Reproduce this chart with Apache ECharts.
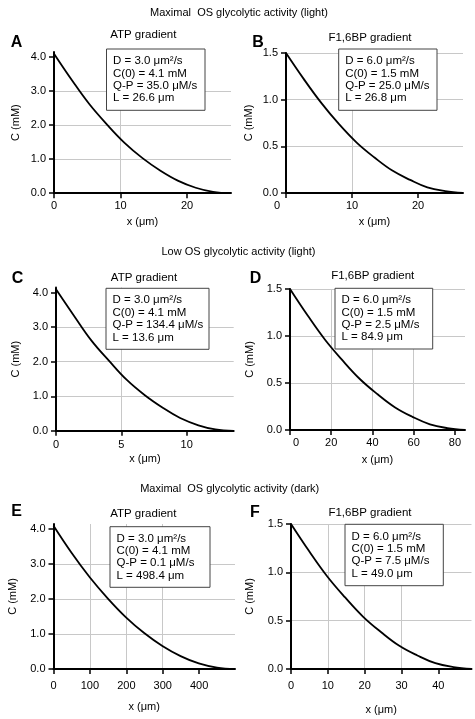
<!DOCTYPE html>
<html><head><meta charset="utf-8">
<script src="https://cdn.jsdelivr.net/npm/echarts@6/dist/echarts.min.js"></script>
<style>html,body{margin:0;padding:0;background:#fff}#c{width:475px;height:719px}</style>
</head><body><div id="c"></div>
<script>
const FONT = '"Liberation Sans", Arial, Helvetica, sans-serif';

// ---- data ----
const xA = [0, 2.7, 5.3, 8.0, 10.6, 13.3, 16.0, 18.6, 21.3, 23.9, 26.6];
const cA = [4.1, 3.32, 2.62, 2.01, 1.48, 1.03, 0.66, 0.37, 0.16, 0.04, 0];
const xB = [0, 2.7, 5.4, 8.0, 10.7, 13.4, 16.1, 18.8, 21.4, 24.1, 26.8];
const cB = [1.5, 1.22, 0.96, 0.74, 0.54, 0.38, 0.24, 0.14, 0.06, 0.02, 0];
const xC = [0, 1.4, 2.7, 4.1, 5.4, 6.8, 8.2, 9.5, 10.9, 12.2, 13.6];
const cC = [4.1, 3.32, 2.62, 2.01, 1.48, 1.03, 0.66, 0.37, 0.16, 0.04, 0];
const xD = [0, 8.5, 17.0, 25.5, 34.0, 42.5, 51.0, 59.4, 67.9, 76.4, 84.9];
const cD = [1.5, 1.22, 0.96, 0.74, 0.54, 0.38, 0.24, 0.14, 0.06, 0.02, 0];
const xE = [0, 50, 100, 150, 199, 249, 299, 349, 399, 449, 498.4];
const cE = [4.1, 3.32, 2.62, 2.01, 1.48, 1.03, 0.66, 0.37, 0.16, 0.04, 0];
const xF = [0, 4.9, 9.8, 14.7, 19.6, 24.5, 29.4, 34.3, 39.2, 44.1, 49.0];
const cF = [1.5, 1.22, 0.96, 0.74, 0.54, 0.38, 0.24, 0.14, 0.06, 0.02, 0];

const xTicksA = [0, 10, 20];
const xTicksB = [0, 10, 20];
const xTicksC = [0, 5, 10];
const xTicksD = [0, 20, 40, 60, 80];
const xTicksE = [0, 100, 200, 300, 400];
const xTicksF = [0, 10, 20, 30, 40];
const yTicksATP = [0, 1, 2, 3, 4];
const yTicksFBP = [0, 0.5, 1, 1.5];

const paramD  = [3.0, 6.0, 3.0, 6.0, 3.0, 6.0];
const paramC0 = [4.1, 1.5, 4.1, 1.5, 4.1, 1.5];
const paramQP = [35.0, 25.0, 134.4, 2.5, 0.1, 7.5];
const paramL  = [26.6, 26.8, 13.6, 84.9, 498.4, 49.0];

const panelLetters = ['A', 'B', 'C', 'D', 'E', 'F'];
const panelTitles = ['ATP gradient', 'F1,6BP gradient', 'ATP gradient', 'F1,6BP gradient', 'ATP gradient', 'F1,6BP gradient'];
const rowTitles = ['Maximal  OS glycolytic activity (light)', 'Low OS glycolytic activity (light)', 'Maximal  OS glycolytic activity (dark)'];

// ---- layout ----
const xs = [xA, xB, xC, xD, xE, xF];
const cs = [cA, cB, cC, cD, cE, cF];
const xTicks = [xTicksA, xTicksB, xTicksC, xTicksD, xTicksE, xTicksF];
const layout = [
  {grid: {left: 54, top: 52, width: 177, height: 141.2}, yMax: 4.15, yTicks: yTicksATP, yInt: 1, xInt: 10, xLM: 7, xNG: 23, yNG: 33, letter: [16.5, 42.5], title: [143.3, 35], box: [106.5, 49, 98.5, 61.3], zs: 0},
  {grid: {left: 286, top: 53, width: 177, height: 140}, yMax: 1.5, yTicks: yTicksFBP, yInt: 0.5, xInt: 10, xLM: 7, xNG: 23, yNG: 32, letter: [258, 43], title: [370, 38.3], box: [338.7, 49, 98.3, 61.3], zs: -18},
  {grid: {left: 56, top: 287.5, width: 177.7, height: 143.3}, yMax: 4.15, yTicks: yTicksATP, yInt: 1, xInt: 5, xLM: 9, xNG: 23, yNG: 35, letter: [17.5, 279], title: [144, 277.7], box: [106, 288.3, 103, 61]},
  {grid: {left: 290, top: 289, width: 175, height: 141}, yMax: 1.5, yTicks: yTicksFBP, yInt: 0.5, xInt: 20, xLM: 7, xNG: 24, yNG: 35, letter: [255.5, 278.8], title: [372.7, 275.7], box: [335, 288.3, 97.7, 60.7], zs: 12},
  {grid: {left: 53.5, top: 524, width: 181.5, height: 145}, yMax: 4.15, yTicks: yTicksATP, yInt: 1, xInt: 100, xLM: 11.5, xNG: 32, yNG: 35, letter: [16.7, 512], title: [143.3, 514.3], box: [110, 526.7, 100, 60.6]},
  {grid: {left: 291, top: 524, width: 180.5, height: 145}, yMax: 1.5, yTicks: yTicksFBP, yInt: 0.5, xInt: 10, xLM: 11, xNG: 35, yNG: 36, letter: [255, 512.3], title: [370, 512.7], box: [345, 524.3, 98.3, 61.4]}
];
const rowTitlePos = [[239, 12.5], [238.5, 251.7], [229.7, 489]];

const grids = [], xAxes = [], yAxes = [], series = [], graphics = [];
const axisText = {fontSize: 11, color: '#000', fontFamily: FONT};

layout.forEach((p, i) => {
  grids.push(Object.assign({containLabel: false}, p.grid));
  const zs = p.zs || 0;
  xAxes.push({
    gridIndex: i, type: 'value', min: 0, max: paramL[i], interval: p.xInt,
    axisLine: {onZero: false, lineStyle: {color: '#000', width: 2}},
    axisTick: {show: true, length: 5, customValues: xTicks[i], lineStyle: {color: '#000', width: 1.5}},
    axisLabel: Object.assign({}, axisText, {
      customValues: xTicks[i], margin: p.xLM,
      formatter: v => (v === 0 && zs) ? '{z|0}' : String(v),
      rich: {z: {fontSize: 11, fontFamily: FONT, color: '#000', padding: zs < 0 ? [0, -zs, 0, 0] : [0, 0, 0, zs]}}
    }),
    splitLine: {show: true, showMinLine: false, showMaxLine: false, lineStyle: {color: '#c8c8c8', width: 1}},
    name: 'x (μm)', nameLocation: 'middle', nameGap: p.xNG,
    nameTextStyle: axisText
  });
  yAxes.push({
    gridIndex: i, type: 'value', min: 0, max: p.yMax, interval: p.yInt,
    axisLine: {show: true, onZero: false, lineStyle: {color: '#000', width: 2}},
    axisTick: {show: true, length: 5, customValues: p.yTicks, lineStyle: {color: '#000', width: 1.5}},
    axisLabel: Object.assign({}, axisText, {customValues: p.yTicks, margin: 8, formatter: v => v.toFixed(1)}),
    splitLine: {show: true, showMinLine: false, showMaxLine: p.yMax === p.yTicks[p.yTicks.length - 1], lineStyle: {color: '#c8c8c8', width: 1}},
    name: 'C (mM)', nameLocation: 'middle', nameGap: p.yNG, nameRotate: 90,
    nameTextStyle: axisText
  });
  series.push({
    type: 'line', xAxisIndex: i, yAxisIndex: i,
    data: xs[i].map((x, k) => [x, cs[i][k]]),
    showSymbol: false, smooth: 0.4, silent: true, z: 3,
    lineStyle: {color: '#000', width: 1.8}
  });
  graphics.push({
    type: 'text', x: p.letter[0], y: p.letter[1], z: 20,
    style: {text: panelLetters[i], fontSize: 16, fontWeight: 'bold', fontFamily: FONT, fill: '#000', align: 'center', verticalAlign: 'middle', textAlign: 'center', textVerticalAlign: 'middle'}
  });
  graphics.push({
    type: 'text', x: p.title[0], y: p.title[1], z: 20,
    style: {text: panelTitles[i], fontSize: 11.5, fontFamily: FONT, fill: '#000', align: 'center', verticalAlign: 'middle', textAlign: 'center', textVerticalAlign: 'middle'}
  });
  const b = p.box;
  graphics.push({
    type: 'rect', z: 30, shape: {x: b[0], y: b[1], width: b[2], height: b[3]},
    style: {fill: '#fff', stroke: '#444', lineWidth: 1}
  });
  const lines = [
    'D = ' + paramD[i].toFixed(1) + ' μm²/s',
    'C(0) = ' + paramC0[i].toFixed(1) + ' mM',
    'Q-P = ' + paramQP[i].toFixed(1) + ' μM/s',
    'L = ' + paramL[i].toFixed(1) + ' μm'
  ];
  graphics.push({
    type: 'text', z: 31, x: b[0] + 6.5, y: b[1] + b[3] / 2,
    style: {text: lines.join('\n'), fontSize: 11.5, lineHeight: 12.4, fontFamily: FONT, fill: '#000', align: 'left', verticalAlign: 'middle', textAlign: 'left', textVerticalAlign: 'middle'}
  });
});

rowTitles.forEach((t, r) => {
  graphics.push({
    type: 'text', x: rowTitlePos[r][0], y: rowTitlePos[r][1], z: 20,
    style: {text: t, fontSize: 11, fontFamily: FONT, fill: '#000', align: 'center', verticalAlign: 'middle', textAlign: 'center', textVerticalAlign: 'middle'}
  });
});

const chart = echarts.init(document.getElementById('c'), null, {renderer: 'canvas'});
chart.setOption({
  backgroundColor: '#fff',
  animation: false,
  textStyle: {fontFamily: FONT},
  grid: grids, xAxis: xAxes, yAxis: yAxes, series: series,
  graphic: graphics
});
</script>
</body></html>
